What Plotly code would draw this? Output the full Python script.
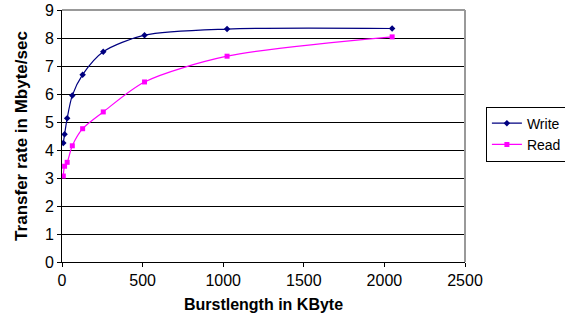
import plotly.graph_objects as go

burst = [8, 16, 32, 64, 128, 256, 512, 1024, 2048]
write_rate = [4.25, 4.56, 5.13, 5.95, 6.69, 7.51, 8.1, 8.32, 8.34]
read_rate = [3.07, 3.42, 3.56, 4.15, 4.76, 5.36, 6.43, 7.35, 8.04]
y_ticks = [0, 1, 2, 3, 4, 5, 6, 7, 8, 9]
x_ticks = [0, 500, 1000, 1500, 2000, 2500]

font_family = "Liberation Sans, Arial, sans-serif"

fig = go.Figure()
fig.add_trace(go.Scatter(
    x=burst, y=write_rate, name="Write", mode="lines+markers",
    line=dict(color="#000080", width=1.2, shape="spline", smoothing=0.8),
    marker=dict(symbol="diamond", size=5, color="#000080"),
))
fig.add_trace(go.Scatter(
    x=burst, y=read_rate, name="Read", mode="lines+markers",
    line=dict(color="#FF00FF", width=1.2, shape="spline", smoothing=0.8),
    marker=dict(symbol="square", size=5, color="#FF00FF"),
))

fig.update_layout(
    width=565, height=328,
    margin=dict(l=62, r=100, t=10, b=66, autoexpand=False),
    paper_bgcolor="white", plot_bgcolor="white",
    font=dict(family=font_family, size=16, color="black"),
    showlegend=True,
    legend=dict(
        xref="container", yref="container",
        x=0.86, y=0.675, xanchor="left", yanchor="top",
        bordercolor="black", borderwidth=1, bgcolor="white",
        font=dict(size=14), tracegroupgap=0, itemwidth=30,
    ),
    xaxis=dict(
        range=[0, 2500], tickmode="array", tickvals=x_ticks,
        showgrid=False, zeroline=False, automargin=False,
        showline=True, linecolor="black", linewidth=1,
        ticks="outside", ticklen=4, tickcolor="black",
        tickfont=dict(size=16),
        title=dict(text="<b>Burstlength in KByte</b>", font=dict(size=16), standoff=10),
    ),
    yaxis=dict(
        range=[0, 9], tickmode="array", tickvals=y_ticks,
        showgrid=True, gridcolor="black", gridwidth=1,
        zeroline=False, automargin=False,
        showline=True, linecolor="black", linewidth=1,
        ticks="outside", ticklen=4, tickcolor="black",
        tickfont=dict(size=16),
        title=dict(text="<b>Transfer rate in Mbyte/sec</b>", font=dict(size=17), standoff=12),
    ),
    shapes=[
        dict(type="line", xref="paper", yref="paper", x0=0, x1=1, y0=1, y1=1,
             line=dict(color="#999999", width=2)),
        dict(type="line", xref="paper", yref="paper", x0=1, x1=1, y0=0, y1=1,
             line=dict(color="#999999", width=2)),
    ],
)

fig.write_html("out.html")
